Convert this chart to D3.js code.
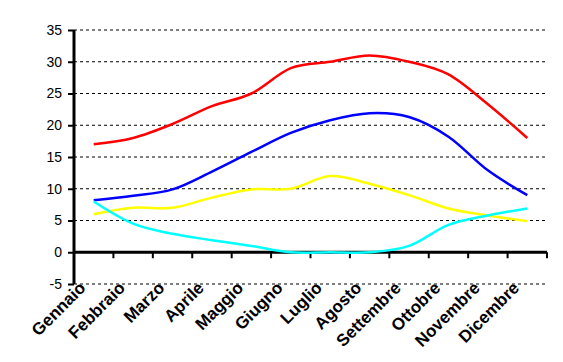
<!DOCTYPE html>
<html>
<head>
<meta charset="utf-8">
<script src="https://cdn.jsdelivr.net/npm/d3@7"></script>
<style>
  body { margin: 0; background: #fff; }
  svg { display: block; font-family: "Liberation Sans", Arial, sans-serif; }
</style>
</head>
<body>
<div id="chart"></div>
<script>
const months = ["Gennaio", "Febbraio", "Marzo", "Aprile", "Maggio", "Giugno",
    "Luglio", "Agosto", "Settembre", "Ottobre", "Novembre", "Dicembre"];

// values
const redVals    = [17, 18, 20.2, 23, 25, 29, 30, 31, 30, 28, 23.3, 18];
const blueVals   = [8.2, 8.9, 9.9, 12.7, 15.8, 18.8, 20.8, 21.9, 21.3, 18.2, 12.9, 9];
const yellowVals = [6, 7, 7, 8.6, 9.9, 10, 12, 10.8, 9, 6.9, 5.8, 4.9];
const cyanVals   = [8, 4.5, 2.9, 1.9, 1, 0, 0, 0, 1, 4.3, 5.8, 6.9];
const yTicks = [-5, 0, 5, 10, 15, 20, 25, 30, 35];

const series = [
    { values: redVals, color: "#ff0000" },
    { values: blueVals, color: "#0000ff" },
    { values: yellowVals, color: "#ffff00" },
    { values: cyanVals, color: "#00ffff" }
];

const width = 563, height = 362;
const plotLeft = 74, plotRight = 547, plotTop = 30, plotBottom = 284;

const svg = d3.select("#chart").append("svg")
    .attr("width", width)
    .attr("height", height);

const x = d3.scaleBand().domain(months).range([plotLeft, plotRight]);
const y = d3.scaleLinear().domain([-5, 35]).range([plotBottom, plotTop]);

// dashed grid
svg.append("g")
    .selectAll("line")
    .data(yTicks.filter(d => d !== 0))
    .join("line")
    .attr("x1", plotLeft)
    .attr("x2", plotRight - 2)
    .attr("y1", d => y(d))
    .attr("y2", d => y(d))
    .attr("stroke", "#000")
    .attr("stroke-width", 1)
    .attr("stroke-dasharray", "3,3");

// y axis
const yAxis = svg.append("g")
    .attr("transform", `translate(${plotLeft},0)`)
    .call(d3.axisLeft(y).tickValues(yTicks).tickSize(6).tickPadding(6).tickFormat(d => String(d)));
yAxis.select(".domain").attr("stroke-width", 3).attr("d", `M0,${plotTop}V${plotBottom}`);
yAxis.selectAll(".tick line").attr("stroke-width", 2);
yAxis.selectAll("text").attr("font-size", 14).attr("fill", "#000");

// x axis on zero line
const xAxis = svg.append("g")
    .attr("transform", `translate(0,${y(0)})`);
xAxis.append("line")
    .attr("x1", plotLeft).attr("x2", plotRight)
    .attr("stroke", "#000").attr("stroke-width", 3);
xAxis.selectAll(".tk")
    .data(months)
    .join("line")
    .attr("x1", d => x(d) + x.bandwidth())
    .attr("x2", d => x(d) + x.bandwidth())
    .attr("y1", 0).attr("y2", 6)
    .attr("stroke", "#000").attr("stroke-width", 2);

// month labels
svg.append("g")
    .selectAll("text")
    .data(months)
    .join("text")
    .attr("transform", d => `translate(${x(d) + x.bandwidth() / 2 - 7},${plotBottom + 5}) rotate(-45)`)
    .attr("text-anchor", "end")
    .attr("font-size", 17)
    .attr("font-weight", "bold")
    .attr("fill", "#000")
    .text(d => d);

const line = d3.line()
    .x((d, i) => x(months[i]) + x.bandwidth() / 2)
    .y(d => y(d))
    .curve(d3.curveCardinal.tension(0));

svg.append("g")
    .selectAll("path")
    .data(series)
    .join("path")
    .attr("d", d => line(d.values))
    .attr("fill", "none")
    .attr("stroke", d => d.color)
    .attr("stroke-width", 2.5);
</script>
</body>
</html>
